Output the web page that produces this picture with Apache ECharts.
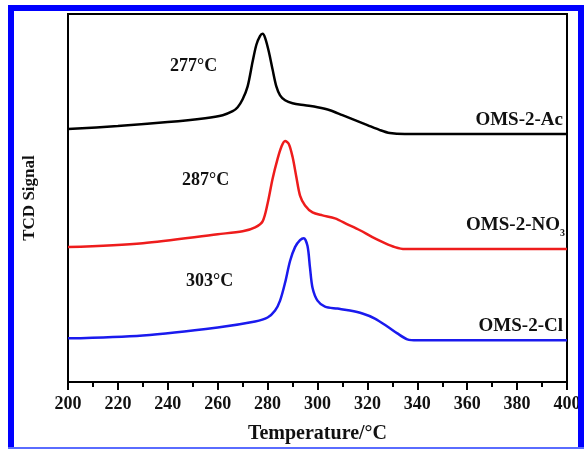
<!DOCTYPE html>
<html>
<head>
<meta charset="utf-8">
<script src="https://cdn.jsdelivr.net/npm/echarts@6/dist/echarts.min.js"></script>
<style>
  html, body { margin: 0; padding: 0; background: #fff; }
  #chart { width: 584px; height: 449px; }
</style>
</head>
<body>
<div id="chart"></div>
<script>
// temperatures (°C) and TCD signal (arbitrary units, stacked offsets)
var acTemp = [200, 220, 240, 255, 262, 266, 268, 270, 272, 274, 275.5, 277, 278, 279, 280.5, 282, 283.5, 285, 287, 290, 295, 300, 305, 310, 315, 320, 325, 329, 335, 360, 400];
var acSignal = [255, 258, 262, 266, 269, 273, 277, 285, 298, 323, 340, 349, 351, 347, 333, 315, 298, 289, 284, 281, 279, 277, 274, 269, 264, 259, 254, 251, 250, 250, 250];

var no3Temp = [200, 230, 260, 270, 275, 278, 280, 282, 284, 285.5, 287, 288.5, 290, 291.5, 293, 295, 298, 302, 307, 312, 317, 322, 327, 331, 335, 400];
var no3Signal = [136, 140, 149, 152, 156, 162, 180, 205, 225, 237, 243, 240, 227, 207, 188, 178, 171, 168, 165, 159, 153, 146, 140, 136, 134, 134];

var clTemp = [200, 230, 260, 275, 280, 283, 285, 287, 289, 291, 293, 294.5, 296, 297, 298, 300, 303, 308, 313, 318, 323, 328, 332, 336, 340, 400];
var clSignal = [44, 47, 55, 61, 65, 72, 82, 100, 122, 136, 143, 145, 137, 115, 95, 82, 76, 74, 72, 69, 64, 56, 49, 43, 42, 42];

var xTicks = [200, 220, 240, 260, 280, 300, 320, 340, 360, 380, 400];

function pairs(xs, ys) {
    return xs.map(function (x, i) { return [x, ys[i]]; });
}

var chart = echarts.init(document.getElementById('chart'));
var serif = '"Liberation Serif", "Times New Roman", serif';

var option = {
    backgroundColor: '#fff',
    animation: false,
    grid: {
        left: 68, right: 17, top: 14, bottom: 64,
        show: true, borderColor: '#000', borderWidth: 2
    },
    xAxis: {
        type: 'value',
        min: xTicks[0],
        max: xTicks[xTicks.length - 1],
        interval: 20,
        name: 'Temperature/°C',
        nameLocation: 'middle',
        nameGap: 42,
        nameTextStyle: { fontFamily: serif, fontWeight: 'bold', fontSize: 20, color: '#111' },
        axisLine: { lineStyle: { color: '#000', width: 2 } },
        axisTick: { length: 8, lineStyle: { color: '#000', width: 2 } },
        minorTick: { show: true, splitNumber: 2, length: 5, lineStyle: { color: '#000', width: 2 } },
        axisLabel: { margin: 13, fontFamily: serif, fontWeight: 'bold', fontSize: 18, color: '#111' },
        splitLine: { show: false }
    },
    yAxis: {
        type: 'value',
        min: 0,
        max: 371,
        name: 'TCD Signal',
        nameLocation: 'middle',
        nameGap: 30,
        nameTextStyle: { fontFamily: serif, fontWeight: 'bold', fontSize: 17, color: '#111' },
        axisLine: { show: true, lineStyle: { color: '#000', width: 2 } },
        axisTick: { show: false },
        axisLabel: { show: false },
        splitLine: { show: false }
    },
    series: [
        {
            name: 'OMS-2-Ac', type: 'line', smooth: 0.3, showSymbol: false,
            lineStyle: { color: '#000', width: 2.5 },
            data: pairs(acTemp, acSignal)
        },
        {
            name: 'OMS-2-NO3', type: 'line', smooth: 0.3, showSymbol: false,
            lineStyle: { color: '#ee1c1c', width: 2.5 },
            data: pairs(no3Temp, no3Signal)
        },
        {
            name: 'OMS-2-Cl', type: 'line', smooth: 0.3, showSymbol: false,
            lineStyle: { color: '#1a1aee', width: 2.5 },
            data: pairs(clTemp, clSignal)
        }
    ],
    graphic: [
        { type: 'text', left: 170, top: 57, style: { text: '277°C', font: 'bold 18px ' + serif, fill: '#111' } },
        { type: 'text', left: 182, top: 171, style: { text: '287°C', font: 'bold 18px ' + serif, fill: '#111' } },
        { type: 'text', left: 186, top: 272, style: { text: '303°C', font: 'bold 18px ' + serif, fill: '#111' } },
        { type: 'text', right: 21, top: 111, style: { text: 'OMS-2-Ac', font: 'bold 19px ' + serif, fill: '#111' } },
        { type: 'text', right: 24, top: 216, style: { text: 'OMS-2-NO', font: 'bold 19px ' + serif, fill: '#111' } },
        { type: 'text', left: 560, top: 228, style: { text: '3', font: 'bold 10px ' + serif, fill: '#111' } },
        { type: 'text', right: 21, top: 317, style: { text: 'OMS-2-Cl', font: 'bold 19px ' + serif, fill: '#111' } },
        // blue frame
        { type: 'rect', z: 100, shape: { x: 8, y: 5, width: 576, height: 6 }, style: { fill: '#0000ff' } },
        { type: 'rect', z: 100, shape: { x: 8, y: 5, width: 6, height: 444 }, style: { fill: '#0000ff' } },
        { type: 'rect', z: 100, shape: { x: 578, y: 5, width: 6, height: 444 }, style: { fill: '#0000ff' } },
        { type: 'rect', z: 100, shape: { x: 8, y: 447, width: 576, height: 2 }, style: { fill: '#5a6cff' } }
    ]
};

chart.setOption(option);
</script>
</body>
</html>
